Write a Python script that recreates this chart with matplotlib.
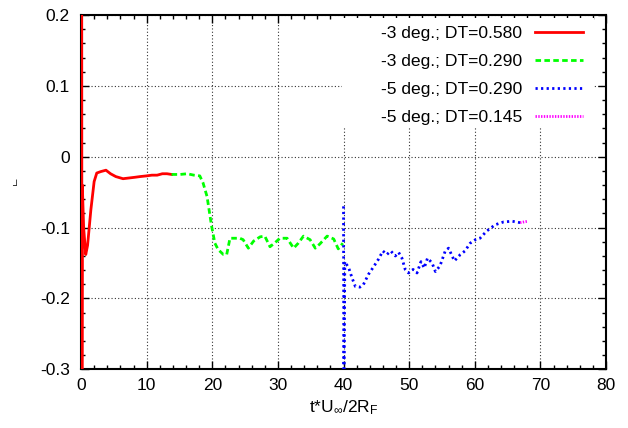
import matplotlib
matplotlib.use('Agg')
import matplotlib.pyplot as plt
from matplotlib.ticker import MultipleLocator
from matplotlib.patches import Rectangle

plt.rcParams['font.family'] = ['Liberation Sans', 'DejaVu Sans']
plt.rcParams['mathtext.default'] = 'regular'

# --- datos ---
t_a = [0.1, 0.14, 0.2, 0.4, 0.72, 1.0, 1.5, 2.0, 2.4, 3.0, 3.8, 4.5, 5.3, 6.4, 7.3, 8.2, 9.0, 10.0,
       10.8, 11.6, 12.4, 13.1, 13.8]
v_a = [0.35, -0.35, -0.04, -0.10, -0.138, -0.125, -0.075, -0.035, -0.023, -0.021, -0.019, -0.024, -0.028,
       -0.031, -0.030, -0.029, -0.028, -0.027, -0.026, -0.026, -0.024, -0.024, -0.025]

t_b = [13.8, 15.1, 16.2, 17.2, 18.1, 18.6, 19.2, 19.9, 20.4, 20.9, 21.7, 22.2, 22.7, 23.5, 24.2, 24.7,
       25.5, 26.3, 27.3, 28.0, 28.8, 29.6, 30.3, 31.4, 32.4, 33.1, 33.9, 34.9, 35.7, 36.4, 37.5, 38.5,
       39.2, 39.9]
v_b = [-0.025, -0.025, -0.024, -0.026, -0.027, -0.037, -0.056, -0.098, -0.122, -0.131, -0.138, -0.138,
       -0.115, -0.115, -0.115, -0.117, -0.129, -0.119, -0.113, -0.112, -0.127, -0.121, -0.115, -0.115,
       -0.129, -0.122, -0.112, -0.117, -0.129, -0.123, -0.112, -0.116, -0.130, -0.122]

t_c = [40.0, 40.05, 40.2, 40.8, 41.3, 41.8, 42.5, 43.0, 43.8, 44.6, 45.3, 46.0, 46.6, 47.2, 47.9, 48.4,
       48.9, 49.4, 49.9, 50.6, 51.2, 51.8, 52.3, 52.8, 53.5, 54.0, 54.7, 55.5, 56.0, 56.9, 57.8, 58.5,
       59.3, 60.1, 60.8, 61.8, 63.1, 64.4, 65.7, 66.9]
v_c = [-0.07, -0.35, -0.148, -0.157, -0.171, -0.183, -0.184, -0.181, -0.166, -0.155, -0.145, -0.133,
       -0.138, -0.133, -0.140, -0.135, -0.143, -0.159, -0.164, -0.159, -0.164, -0.148, -0.157, -0.143,
       -0.150, -0.162, -0.154, -0.133, -0.129, -0.147, -0.138, -0.133, -0.122, -0.117, -0.115, -0.105,
       -0.096, -0.092, -0.091, -0.093]

t_d = [66.9, 67.5, 68.1]
v_d = [-0.093, -0.092, -0.091]

etiquetas = ['-3 deg.; DT=0.580', '-3 deg.; DT=0.290', '-5 deg.; DT=0.290', '-5 deg.; DT=0.145']

fig = plt.figure(figsize=(6.28, 4.28), dpi=100)
ax = fig.add_axes([0.129, 0.137, 0.836, 0.828])

ax.plot(t_a, v_a, color='#ff0000', lw=2, label=etiquetas[0], zorder=3)
ax.plot(t_b, v_b, color='#00ff00', lw=2, ls=(0, (2, 1.2)), label=etiquetas[1], zorder=3)
ax.plot(t_c, v_c, color='#0000ff', lw=2, ls=(0, (0.8, 1.2)), label=etiquetas[2], zorder=3)
ax.plot(t_d, v_d, color='#ff00ff', lw=2, ls=(0, (0.5, 0.5)), label=etiquetas[3], zorder=3)

ax.set_xlim(0, 80)
ax.set_ylim(-0.3, 0.2)
ax.xaxis.set_major_locator(MultipleLocator(10))
ax.xaxis.set_minor_locator(MultipleLocator(2))
ax.yaxis.set_major_locator(MultipleLocator(0.1))
ax.yaxis.set_minor_locator(MultipleLocator(0.02))
ax.yaxis.set_major_formatter(plt.FuncFormatter(lambda v, p: '0' if abs(v) < 1e-9 else f'{v:.1f}'))

ax.tick_params(which='both', direction='in', top=True, right=True, labelsize=12.5)
ax.tick_params(which='major', length=6, width=1)
ax.tick_params(which='minor', length=3, width=1)
ax.tick_params(axis='y', pad=8)
ax.tick_params(axis='x', pad=6)
for s in ax.spines.values():
    s.set_linewidth(1.5)

ax.grid(True, which='major', color='black', linestyle=(0, (1, 2)), linewidth=0.8, alpha=0.8)

# fondo blanco de la leyenda (tapa la rejilla, como en gnuplot)
ax.add_patch(Rectangle((0.497, 0.681), 0.48, 0.31, transform=ax.transAxes,
                       facecolor='white', edgecolor='none', zorder=2.5))

ax.set_xlabel('t*U$_{\\infty}$/2R$_F$', fontsize=12.5, labelpad=4)
fig.text(15 / 628, 1 - 186 / 428, '┘', fontsize=7, ha='center', va='center')

ax.legend(loc='upper right', bbox_to_anchor=(0.956, 0.969), frameon=False, markerfirst=False,
          fontsize=12.6, handlelength=2.73, handletextpad=0.74, labelspacing=0.72,
          borderaxespad=0, borderpad=0)

plt.savefig('out.png', dpi=100)
